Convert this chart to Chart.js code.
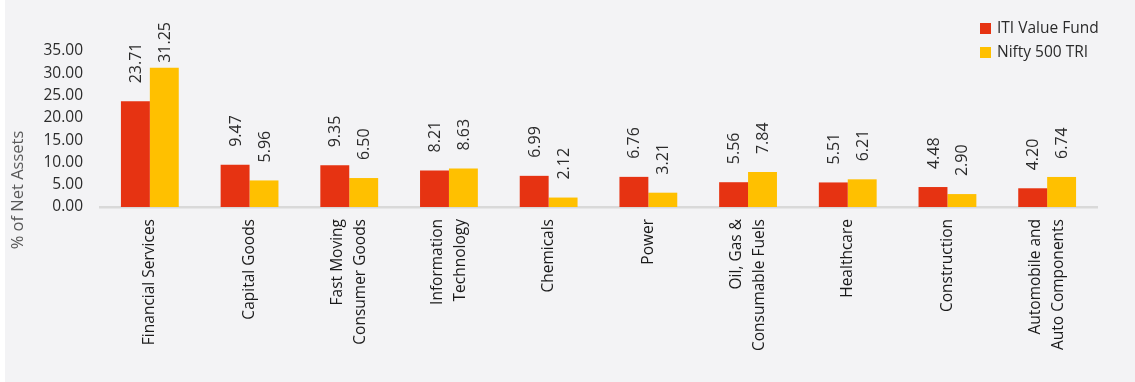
<!DOCTYPE html>
<html>
<head>
<meta charset="utf-8">
<script src="https://cdn.jsdelivr.net/npm/chart.js@4/dist/chart.umd.min.js"></script>
<style>
  html, body { margin: 0; padding: 0; background: #ffffff; }
  #wrap { width: 1135px; height: 382px; position: relative; }
</style>
</head>
<body>
<div id="wrap"><canvas id="c" width="1135" height="382"></canvas></div>
<script>
const categories = [
  ["Financial Services"],
  ["Capital Goods"],
  ["Fast Moving", "Consumer Goods"],
  ["Information", "Technology"],
  ["Chemicals"],
  ["Power"],
  ["Oil, Gas &", "Consumable Fuels"],
  ["Healthcare"],
  ["Construction"],
  ["Automobile and", "Auto Components"]
];
const fundValues = [23.71, 9.47, 9.35, 8.21, 6.99, 6.76, 5.56, 5.51, 4.48, 4.20];
const indexValues = [31.25, 5.96, 6.50, 8.63, 2.12, 3.21, 7.84, 6.21, 2.90, 6.74];
const seriesNames = ["ITI Value Fund", "Nifty 500 TRI"];
const yTicks = [0, 5, 10, 15, 20, 25, 30, 35];
const yTitle = "% of Net Assets";

const RED = '#e63312';
const YELLOW = '#ffc000';
const TEXT = '#2b2b2b';
const FONT = "'Open Sans', sans-serif";

const bgPlugin = {
  id: 'bg',
  beforeDraw(chart) {
    const ctx = chart.ctx;
    ctx.save();
    ctx.fillStyle = '#ffffff';
    ctx.fillRect(0, 0, chart.width, chart.height);
    ctx.fillStyle = '#f3f3f5';
    ctx.fillRect(5, 0, chart.width - 5, chart.height);
    ctx.restore();
  }
};

const labelPlugin = {
  id: 'valueLabels',
  afterDatasetsDraw(chart) {
    const ctx = chart.ctx;
    ctx.save();
    ctx.font = "16px " + FONT;
    ctx.fillStyle = TEXT;
    ctx.textBaseline = 'middle';
    ctx.textAlign = 'left';
    chart.data.datasets.forEach((ds, di) => {
      const meta = chart.getDatasetMeta(di);
      meta.data.forEach((bar, i) => {
        const txt = ds.data[i].toFixed(2);
        const w = ctx.measureText(txt).width;
        let end = bar.y - 18;
        let start = end - w;
        if (start < 22) { start = 22; }
        ctx.save();
        ctx.translate(bar.x + 1, start + w);
        ctx.rotate(-Math.PI / 2);
        ctx.fillText(txt, 0, 0);
        ctx.restore();
      });
    });
    ctx.restore();
  }
};

const xLabelPlugin = {
  id: 'xLabels',
  afterDraw(chart) {
    const ctx = chart.ctx;
    const xs = chart.scales.x;
    const lh = 22.5;
    ctx.save();
    ctx.font = "15.5px " + FONT;
    ctx.fillStyle = '#1a1a1a';
    ctx.textBaseline = 'middle';
    ctx.textAlign = 'right';
    categories.forEach((lines, i) => {
      const cx = xs.getPixelForValue(i);
      const n = lines.length;
      lines.forEach((ln, j) => {
        const x = cx + (j - (n - 1) / 2) * lh;
        ctx.save();
        ctx.translate(x, xs.top + 12);
        ctx.rotate(-Math.PI / 2);
        ctx.fillText(ln, 0, 0);
        ctx.restore();
      });
    });
    // y axis title
    ctx.font = "16.5px " + FONT;
    ctx.fillStyle = '#595959';
    ctx.textAlign = 'center';
    ctx.save();
    ctx.translate(18, 190);
    ctx.rotate(-Math.PI / 2);
    ctx.fillText(yTitle, 0, 0);
    ctx.restore();
    ctx.restore();
  }
};

const legendPlugin = {
  id: 'customLegend',
  afterDraw(chart) {
    const ctx = chart.ctx;
    ctx.save();
    ctx.font = "15.5px " + FONT;
    ctx.textBaseline = 'middle';
    ctx.textAlign = 'left';
    chart.data.datasets.forEach((ds, i) => {
      const y = 29 + i * 24;
      ctx.fillStyle = ds.backgroundColor;
      ctx.fillRect(980, y - 6, 11, 11);
      ctx.fillStyle = TEXT;
      ctx.fillText(ds.label, 997, y);
    });
    ctx.restore();
  }
};

new Chart(document.getElementById('c'), {
  type: 'bar',
  data: {
    labels: categories.map(l => l.join(' ')),
    datasets: [
      { label: seriesNames[0], data: fundValues, backgroundColor: RED },
      { label: seriesNames[1], data: indexValues, backgroundColor: YELLOW }
    ]
  },
  options: {
    responsive: false,
    animation: false,
    devicePixelRatio: 1,
    datasets: { bar: { categoryPercentage: 0.58, barPercentage: 1.0 } },
    layout: { padding: { left: 0, right: 38, top: 51, bottom: 0 } },
    plugins: {
      legend: { display: false },
      tooltip: { enabled: false }
    },
    scales: {
      x: {
        grid: { display: false, drawTicks: false },
        border: { display: true, color: '#d9d9d9', width: 2.5 },
        ticks: { display: false },
        afterFit(scale) { scale.height = 175; }
      },
      y: {
        min: 0,
        max: 35,
        afterBuildTicks(scale) { scale.ticks = yTicks.map(v => ({ value: v })); },
        grid: { display: false, drawTicks: false },
        border: { display: false },
        ticks: {
          padding: 17,
          color: TEXT,
          font: { family: FONT, size: 15.5 },
          callback: v => Number(v).toFixed(2)
        },
        title: { display: false },
        afterFit(scale) { scale.width = 100; }
      }
    }
  },
  plugins: [bgPlugin, labelPlugin, xLabelPlugin, legendPlugin]
});
</script>
</body>
</html>
